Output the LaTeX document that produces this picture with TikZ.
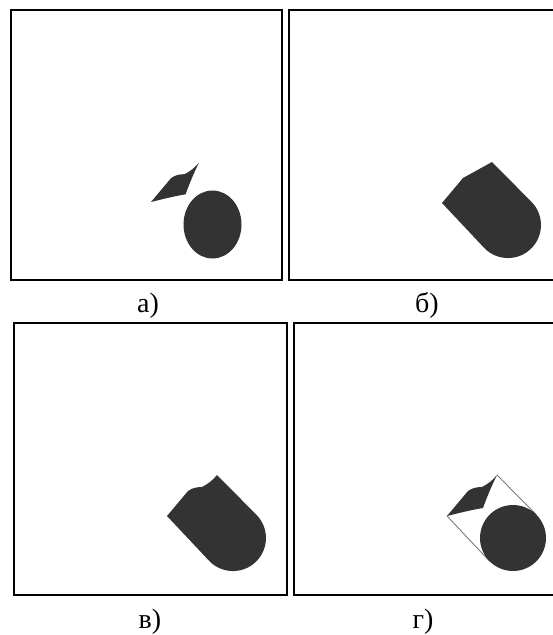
\documentclass[tikz,border=0pt]{standalone}
\usepackage{fontspec}
\setmainfont{Liberation Serif}
\definecolor{solid}{HTML}{333333}
\definecolor{guide}{HTML}{7A7A7A}

\begin{document}
\begin{tikzpicture}[x=1pt, y=-1pt,
    frame/.style={draw=black, line width=2.4pt},
    body/.style={fill=solid},
    guideline/.style={draw=guide, line width=0.9pt},
    caption/.style={font=\fontsize{28}{32}\selectfont, anchor=base, inner sep=0pt},
    kite/.pic={\fill[body] (0,0) -- (21,-25) .. controls (25,-28) and (30,-29) .. (35,-29)
      .. controls (41,-32) and (46,-36) .. (50,-41) .. controls (44.5,-30) and (40,-19) .. (36,-8)
      .. controls (24,-6) and (12,-3) .. cycle;}]
  \useasboundingbox (0,0) rectangle (553,635);

  % frames
  \draw[frame] (11,10) rectangle (282,280);
  \draw[frame] (556,10) -- (289,10) -- (289,280) -- (556,280);
  \draw[frame] (14,323) rectangle (287,595);
  \draw[frame] (556,323) -- (294,323) -- (294,595) -- (556,595);

  % a) kite and ball apart
  \begin{scope}[shift={(151,202)}]
    \pic[scale=0.96] {kite};
    \fill[body] (61.5,22.5) ellipse [x radius=29, y radius=34];
  \end{scope}

  % b) convex sweep
  \begin{scope}[shift={(442,203)}]
    \fill[body] (0,0) -- (21,-25) -- (50,-41) -- (89.3,-1.3)
      arc[start angle=-45, end angle=135, radius=33] -- cycle;
  \end{scope}

  % v) sweep with the kite edge
  \begin{scope}[shift={(167,516)}]
    \fill[body] (0,0) -- (21,-25) .. controls (25,-28) and (30,-29) .. (35,-29)
      .. controls (41,-32) and (46,-36) .. (50,-41) -- (89.3,-1.3)
      arc[start angle=-45, end angle=135, radius=33] -- cycle;
  \end{scope}

  % g) kite, ball and tangents
  \begin{scope}[shift={(447,516)}]
    \coordinate (gL) at (0,0);
    \coordinate (gT) at (50,-41);
    \coordinate (gU) at (89.3,-1.3);
    \coordinate (gD) at (42.7,45.3);
    \draw[guideline] (gT) -- (gU);
    \draw[guideline] (gL) -- (gD);
    \pic {kite};
    \fill[body] (66,22) circle[radius=33];
  \end{scope}

  \node[caption] (capA) at (148,312) {а)};
  \node[caption] (capB) at (427,312) {б)};
  \node[caption] (capV) at (150,628) {в)};
  \node[caption] (capG) at (423,628) {г)};
\end{tikzpicture}
\end{document}
